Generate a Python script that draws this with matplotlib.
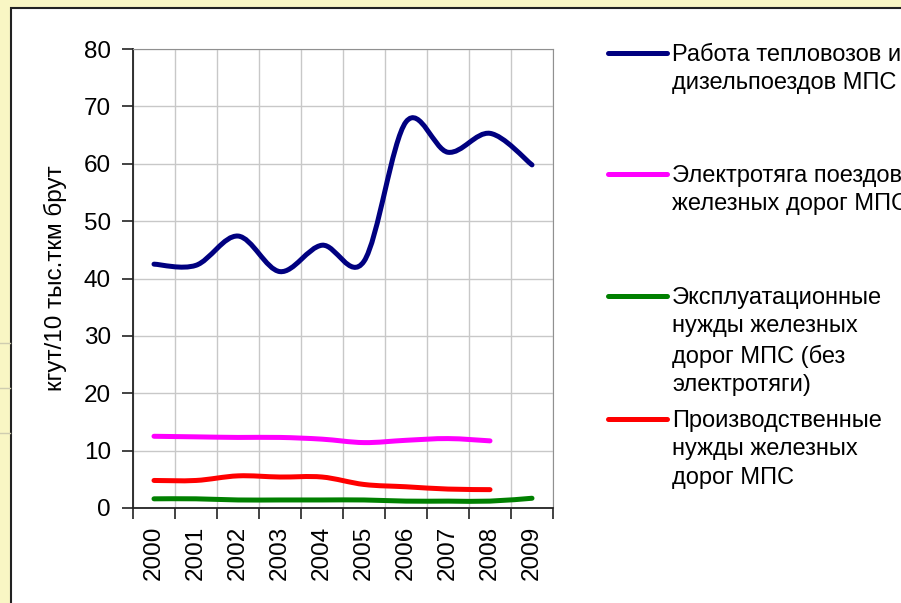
import numpy as np
import matplotlib.pyplot as plt
from matplotlib.path import Path
from matplotlib.patches import PathPatch, Rectangle
from matplotlib.lines import Line2D

plt.rcParams['font.family'] = ['Liberation Sans', 'DejaVu Sans']

years = ['2000', '2001', '2002', '2003', '2004', '2005', '2006', '2007', '2008', '2009']
teplovoz = [42.5, 42.3, 47.4, 41.2, 45.8, 43.0, 67.3, 62.0, 65.3, 59.8]
elektro = [12.5, 12.4, 12.3, 12.3, 12.0, 11.4, 11.8, 12.1, 11.7]
ekspl = [1.6, 1.6, 1.4, 1.4, 1.4, 1.4, 1.2, 1.2, 1.2, 1.7]
proizv = [4.8, 4.8, 5.6, 5.4, 5.4, 4.1, 3.7, 3.3, 3.2]

names = ['Работа тепловозов и\nдизельпоездов МПС',
         'Электротяга поездов\nжелезных дорог МПС',
         'Эксплуатационные\nнужды железных\nдорог МПС (без\nэлектротяги)',
         'Производственные\nнужды железных\nдорог МПС']
colors = ['#000080', '#FF00FF', '#008000', '#FF0000']
series = [teplovoz, elektro, ekspl, proizv]


def smooth_path(vals):
    # excel-like smoothed line (catmull-rom as bezier)
    pts = np.column_stack([np.arange(len(vals)), np.asarray(vals, float)])
    ext = np.vstack([pts[0], pts, pts[-1]])
    verts = [pts[0]]
    codes = [Path.MOVETO]
    for i in range(len(pts) - 1):
        p0, p1, p2, p3 = ext[i], ext[i + 1], ext[i + 2], ext[i + 3]
        verts += [p1 + (p2 - p0) / 6, p2 - (p3 - p1) / 6, p2]
        codes += [Path.CURVE4] * 3
    return Path(verts, codes)


W, H = 901, 603
fig = plt.figure(figsize=(W / 100, H / 100), dpi=100)
fig.patch.set_facecolor('#F9F6C4')

# white panel
fig.patches.append(Rectangle((11 / W, -0.1), 1.2, 1 - 8 / H + 0.1, transform=fig.transFigure,
                             facecolor='white', edgecolor='#222222', lw=1.5, zorder=-5))
for yy in [343, 388, 433]:
    fig.add_artist(Line2D([0, 10 / W], [1 - yy / H, 1 - yy / H], color='#CFCDB0', lw=1))

ax = fig.add_axes([133 / W, 1 - 508 / H, 420 / W, 459 / H])
ax.set_zorder(2)
ax.set_facecolor('white')

for vals, c in zip(series, colors):
    ax.add_patch(PathPatch(smooth_path(vals), fill=False, edgecolor=c, lw=3.6,
                           capstyle='round', joinstyle='round', zorder=3))

ax.set_xlim(-0.5, len(years) - 0.5)
ax.set_ylim(0, 80)
ax.set_yticks(range(0, 81, 10))
ax.set_xticks(range(len(years)))
ax.set_xticklabels(years, rotation=90)
ax.set_xticks(np.arange(-0.5, len(years), 1), minor=True)
ax.tick_params(axis='x', which='major', length=0, pad=13, labelsize=17.5)
ax.tick_params(axis='x', which='minor', length=8, width=1.2, color='#222222')
ax.tick_params(axis='y', length=8, width=1.2, color='#222222', pad=8, labelsize=17.5)
ax.grid(True, axis='y', which='major', color='#C8C8C8', lw=1)
ax.grid(True, axis='x', which='minor', color='#C8C8C8', lw=1)
ax.set_axisbelow(True)
for s in ['top', 'right']:
    ax.spines[s].set_color('#909090')
for s in ['left', 'bottom']:
    ax.spines[s].set_color('#222222')
    ax.spines[s].set_linewidth(1.3)

ax.set_ylabel('кгут/10 тыс.ткм брут', fontsize=17.5, labelpad=12)

# legend
leg_y = [53, 174, 296, 419]
for name, c, ly in zip(names, colors, leg_y):
    fig.add_artist(Line2D([608 / W, 667 / W], [1 - ly / H, 1 - ly / H], color=c, lw=3.6,
                          solid_capstyle='round'))
    fig.text(672 / W, 1 - (ly - 9) / H, name, fontsize=17, ha='left', va='top', linespacing=1.38)

fig.savefig('out.png', dpi=100, facecolor=fig.get_facecolor())
